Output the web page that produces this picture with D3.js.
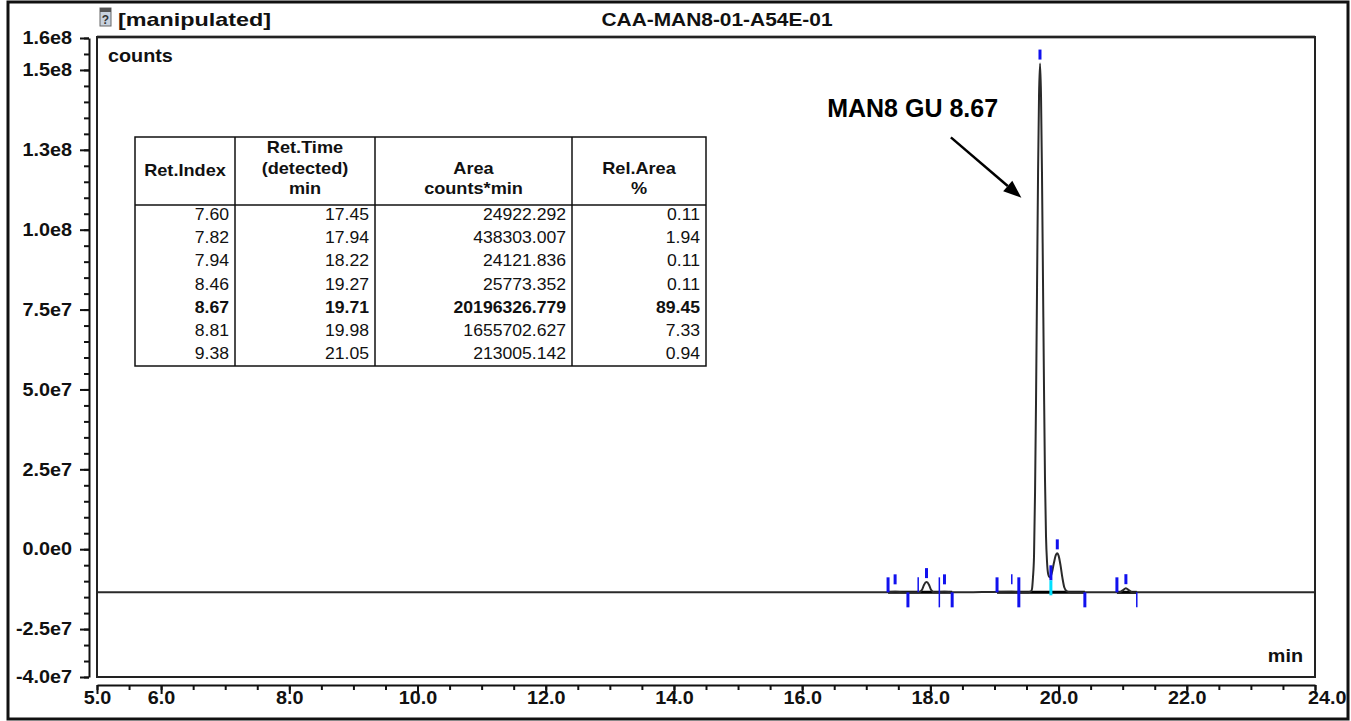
<!DOCTYPE html>
<html>
<head>
<meta charset="utf-8">
<script src="https://cdn.jsdelivr.net/npm/d3@7"></script>
<style>
body { margin: 0; background: #fff; }
</style>
</head>
<body>
<script>
var w = 1351, h = 721;

// chromatogram trace (min, counts)
var traceTime = [5.00, 8.00, 12.00, 16.00, 17.30, 17.45, 17.60, 17.82, 17.87, 17.90, 17.94, 17.98, 18.01, 18.06,
  18.22, 18.35, 19.27, 19.40, 19.52, 19.57, 19.585, 19.60, 19.617, 19.633, 19.648, 19.664, 19.680, 19.695,
  19.711, 19.726, 19.741, 19.757, 19.773, 19.788, 19.804, 19.82, 19.835, 19.85, 19.87, 19.90, 19.93, 19.96,
  19.98, 20.00, 20.03, 20.06, 20.09, 20.13, 20.20, 20.95, 21.00, 21.05, 21.10, 21.15, 24.00];
var traceCounts = [-1.35e7, -1.35e7, -1.35e7, -1.35e7, -1.35e7, -1.33e7, -1.35e7, -1.35e7, -1.27e7, -1.12e7, -1.03e7, -1.12e7, -1.27e7, -1.35e7,
  -1.33e7, -1.35e7, -1.33e7, -1.35e7, -1.35e7, -1.32e7, -1.25e7, -9e6, -2e6, 1.8e7, 4.6e7, 8.2e7, 1.18e8, 1.42e8,
  1.52e8, 1.42e8, 1.18e8, 8.4e7, 5.0e7, 2.2e7, 4e6, -4e6, -7.5e6, -8.5e6, -8.8e6, -7e6, -4e6, -1.7e6,
  -1.3e6, -2e6, -5e6, -9e6, -1.2e7, -1.32e7, -1.35e7, -1.35e7, -1.29e7, -1.22e7, -1.29e7, -1.35e7, -1.35e7];

// peak table
var retIndex = ["7.60", "7.82", "7.94", "8.46", "8.67", "8.81", "9.38"];
var retTime = ["17.45", "17.94", "18.22", "19.27", "19.71", "19.98", "21.05"];
var areaText = ["24922.292", "438303.007", "24121.836", "25773.352", "20196326.779", "1655702.627", "213005.142"];
var relArea = ["0.11", "1.94", "0.11", "0.11", "89.45", "7.33", "0.94"];
var headers = [["Ret.Index"], ["Ret.Time", "(detected)", "min"], ["Area", "counts*min"], ["Rel.Area", "%"]];
var boldRow = 4;

// peak tops and integration markers
var peakTops = [-1.33e7, -1.03e7, -1.33e7, -1.33e7, 1.52e8, -1.3e6, -1.22e7];
var peakThin = [false, false, false, true, false, false, false];
var boundTimes = [17.34, 17.65, 17.81, 18.14, 18.34, 19.04, 19.38, 19.88, 20.41, 20.91, 21.22];
var boundKinds = ["up", "down", "upThin", "bothThin", "down", "up", "both", "drop", "down", "up", "downThin"];
var valley = -8.8e6;
var baseLevel = -1.35e7;
var baseSegs = [[17.34, 18.34], [19.04, 20.41], [20.91, 21.22]];

// axes
var yMajor = [-4e7, -2.5e7, 0, 2.5e7, 5e7, 7.5e7, 1e8, 1.25e8, 1.5e8, 1.6e8];
var xLabels = [5, 6, 8, 10, 12, 14, 16, 18, 20, 22, 24];

// annotation, in data units
var noteText = "MAN8 GU 8.67";
var notePos = [16.39, 1.352e8];
var arrowFrom = [18.32, 1.289e8], arrowTo = [19.42, 1.10e8];

var SX = 1.1;   // text in the picture is a bit wide
var font = "'Liberation Sans', Arial, sans-serif";

var svg = d3.select("body").append("svg")
  .attr("width", w).attr("height", h)
  .style("font-family", font);

svg.append("rect").attr("width", w).attr("height", h).attr("fill", "#fff");

var pl = 97, pr = 1315, pt = 38, pb = 677;
var x = d3.scaleLinear().domain([5, 24]).range([pl, pr]);
var y = d3.scaleLinear().domain([-4e7, 1.6e8]).range([pb, pt]);

function stext(px, py, str, size, anchor, weight, sx) {
  return svg.append("g")
    .attr("transform", "translate(" + px + "," + py + ") scale(" + (sx || SX) + ",1)")
    .append("text")
    .attr("text-anchor", anchor || "start")
    .attr("font-size", size)
    .attr("font-weight", weight || "bold")
    .attr("fill", "#111")
    .text(str);
}

// outer frame
svg.append("rect").attr("x", 8).attr("y", 2).attr("width", 1340).attr("height", 717)
  .attr("fill", "none").attr("stroke", "#111").attr("stroke-width", 3);

// header
var icon = svg.append("g").attr("transform", "translate(100,8)");
icon.append("rect").attr("width", 11).attr("height", 18).attr("fill", "#c8d2de").attr("stroke", "#666");
icon.append("rect").attr("width", 11).attr("height", 4).attr("fill", "#555");
icon.append("text").attr("x", 5.5).attr("y", 16).attr("text-anchor", "middle")
  .attr("font-size", 12).attr("font-weight", "bold").attr("fill", "#333").text("?");
stext(118, 26, "[manipulated]", 19, "start", "bold", 1.23);
stext(717, 26, "CAA-MAN8-01-A54E-01", 19, "middle");

// plot frame
svg.append("line").attr("x1", pl).attr("x2", pr).attr("y1", 37).attr("y2", 37)
  .attr("stroke", "#666").attr("stroke-width", 3);
svg.append("rect").attr("x", pl).attr("y", 37).attr("width", pr - pl).attr("height", pb - 37)
  .attr("fill", "none").attr("stroke", "#222").attr("stroke-width", 2);

// y axis
var fmt = function(d) { return d.toExponential(1).replace("e+", "e"); };
var yMinor = d3.range(-4e7, 1.6e8 + 1, 5e6);
svg.append("g").attr("transform", "translate(89,0)")
  .call(d3.axisLeft(y).tickValues(yMinor).tickSize(5).tickSizeOuter(0).tickFormat(""))
  .call(function(g) { g.selectAll("line").attr("stroke", "#111").attr("stroke-width", 2); })
  .call(function(g) { g.select(".domain").attr("stroke", "#111").attr("stroke-width", 2); });
var ya = svg.append("g").attr("transform", "translate(89,0)")
  .call(d3.axisLeft(y).tickValues(yMajor).tickSize(9).tickSizeOuter(0).tickFormat(fmt));
ya.select(".domain").remove();
ya.selectAll("line").attr("stroke", "#111").attr("stroke-width", 2);
ya.selectAll("text")
  .attr("x", -17 / SX).attr("transform", "scale(" + SX + ",1)")
  .attr("font-family", font).attr("font-size", 18).attr("font-weight", "bold").attr("fill", "#111");

// x axis
var xMinor = d3.range(5, 24.01, 0.5);
svg.append("g").attr("transform", "translate(0,685)")
  .call(d3.axisBottom(x).tickValues(xMinor).tickSize(5).tickSizeOuter(0).tickFormat(""))
  .call(function(g) { g.selectAll("line").attr("stroke", "#111").attr("stroke-width", 2); })
  .call(function(g) { g.select(".domain").attr("stroke", "#111").attr("stroke-width", 2); });
var xa = svg.append("g").attr("transform", "translate(0,685)")
  .call(d3.axisBottom(x).tickValues(xLabels).tickSize(9).tickSizeOuter(0).tickFormat(d3.format(".1f")));
xa.select(".domain").remove();
xa.selectAll("line").attr("stroke", "#111").attr("stroke-width", 2);
xa.selectAll("text")
  .attr("y", 19).attr("dy", 0).attr("transform", "scale(" + SX + ",1)")
  .attr("font-family", font).attr("font-size", 18).attr("font-weight", "bold").attr("fill", "#111");
xa.selectAll("text").filter(function(d) { return d === 24; })
  .attr("text-anchor", "end").attr("x", 31 / SX);

stext(108, 62, "counts", 18);
stext(1303, 662, "min", 18, "end");

// clip
svg.append("clipPath").attr("id", "clip").append("rect")
  .attr("x", pl + 1).attr("y", 39).attr("width", pr - pl - 2).attr("height", pb - 40);
var plot = svg.append("g").attr("clip-path", "url(#clip)");

// integration baselines
baseSegs.forEach(function(s) {
  plot.append("line")
    .attr("x1", x(s[0])).attr("x2", x(s[1]))
    .attr("y1", y(baseLevel)).attr("y2", y(baseLevel))
    .attr("stroke", "#000").attr("stroke-width", 3);
});

// trace
var trace = traceTime.map(function(t, i) { return [t, traceCounts[i]]; });
plot.append("path")
  .datum(trace)
  .attr("fill", "none")
  .attr("stroke", "#2a2a2a")
  .attr("stroke-width", 2)
  .attr("d", d3.line().x(function(d) { return x(d[0]); }).y(function(d) { return y(d[1]); })
    .curve(d3.curveMonotoneX));

// markers
var yb = y(baseLevel);
var blue = "#1111ee";
function mark(t, y1, y2, thick, col) {
  plot.append("line").attr("x1", x(t)).attr("x2", x(t)).attr("y1", y1).attr("y2", y2)
    .attr("stroke", col || blue).attr("stroke-width", thick ? 3 : 1.5);
}
boundTimes.forEach(function(t, i) {
  var k = boundKinds[i];
  if (k === "up") mark(t, yb - 15, yb, true);
  else if (k === "upThin") mark(t, yb - 15, yb, false);
  else if (k === "down") mark(t, yb, yb + 15, true);
  else if (k === "downThin") mark(t, yb, yb + 15, false);
  else if (k === "both") mark(t, yb - 15, yb + 15, true);
  else if (k === "bothThin") mark(t, yb - 15, yb + 15, false);
  else if (k === "drop") {
    mark(t, y(valley) - 12, y(valley) + 3, true);
    mark(t, y(valley) + 3, yb + 3, true, "#00e0ff");
  }
});
retTime.forEach(function(t, i) {
  var top = Math.min(y(peakTops[i]), yb - 4);
  mark(+t, top - 14, top - 4, !peakThin[i]);
});

// annotation
var ax1 = x(arrowFrom[0]), ay1 = y(arrowFrom[1]), ax2 = x(arrowTo[0]), ay2 = y(arrowTo[1]);
var ang = Math.atan2(ay2 - ay1, ax2 - ax1), hl = 18, hw = 7;
var bx = ax2 - hl * Math.cos(ang), by = ay2 - hl * Math.sin(ang);
svg.append("line").attr("x1", ax1).attr("y1", ay1).attr("x2", bx).attr("y2", by)
  .attr("stroke", "#000").attr("stroke-width", 2.5);
svg.append("polygon")
  .attr("points", [[ax2, ay2],
    [bx + hw * Math.sin(ang), by - hw * Math.cos(ang)],
    [bx - hw * Math.sin(ang), by + hw * Math.cos(ang)]].join(" "))
  .attr("fill", "#000");
svg.append("text").attr("x", x(notePos[0])).attr("y", y(notePos[1]))
  .attr("font-size", 25).attr("font-weight", "bold").attr("fill", "#000").text(noteText);

// table
var tl = 135, tr = 706, tt = 137, tb = 366, hline = 205;
var cols = [tl, 235, 375, 572, tr];
var tg = svg.append("g");
tg.append("rect").attr("x", tl).attr("y", tt).attr("width", tr - tl).attr("height", tb - tt)
  .attr("fill", "#fff").attr("stroke", "#111").attr("stroke-width", 1.5);
tg.append("line").attr("x1", tl).attr("x2", tr).attr("y1", hline).attr("y2", hline)
  .attr("stroke", "#111").attr("stroke-width", 1.5);
cols.slice(1, 4).forEach(function(cx) {
  tg.append("line").attr("x1", cx).attr("x2", cx).attr("y1", tt).attr("y2", tb)
    .attr("stroke", "#111").attr("stroke-width", 1.5);
});
// header lines share a grid with the bottom line at 194
var headLine = 20.5;
headers.forEach(function(lines, c) {
  var cx = (cols[c] + cols[c + 1]) / 2;
  lines.forEach(function(s, j) {
    var yy = (lines.length === 1) ? 176 : 194 - (lines.length - 1 - j) * headLine;
    stext(cx, yy, s, 16.5, "middle");
  });
});
var rowY0 = 220, rowH = 23.2;
var cells = [retIndex, retTime, areaText, relArea];
cells.forEach(function(col, c) {
  col.forEach(function(s, r) {
    stext(cols[c + 1] - 6, rowY0 + r * rowH, s, 16, "end", r === boldRow ? "bold" : "normal");
  });
});
</script>
</body>
</html>
